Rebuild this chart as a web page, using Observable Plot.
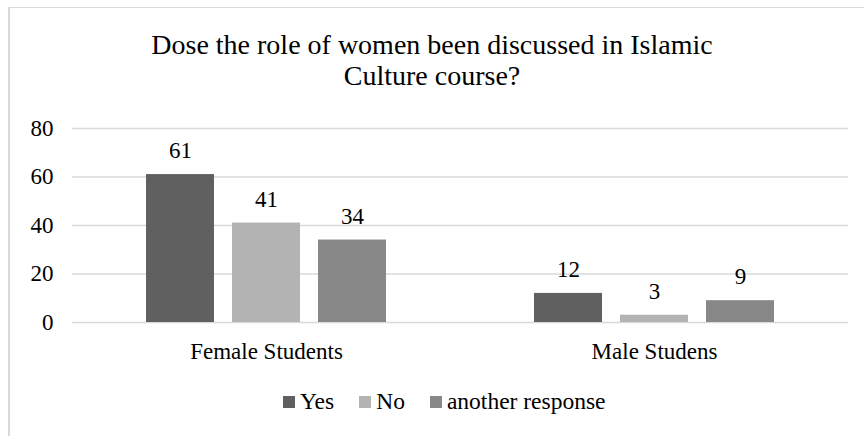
<!DOCTYPE html>
<html><head><meta charset="utf-8">
<script src="https://cdn.jsdelivr.net/npm/d3@7"></script>
<script src="https://cdn.jsdelivr.net/npm/@observablehq/plot@0.6"></script>
<style>
html,body{margin:0;padding:0;background:#fff;overflow:hidden;font-family:'Liberation Serif',serif;}
#wrap{position:relative;width:864px;height:436px;overflow:hidden;font-family:'Liberation Serif',serif;color:#000;}
#frame{position:absolute;left:8px;top:7px;width:1000px;height:1000px;border-top:1px solid #d9d9d9;border-left:2px solid #d9d9d9;}
#chart{position:absolute;left:0;top:0;}
#chart svg, #chart svg text{font-family:'Liberation Serif',serif !important;}
#title{position:absolute;left:0;width:864px;top:29px;text-align:center;font-size:28px;line-height:31px;font-family:'Liberation Serif',serif;}
#legend{position:absolute;left:283px;top:390px;display:flex;align-items:center;font-size:23.5px;line-height:23px;white-space:nowrap;font-family:'Liberation Serif',serif;}
.item{display:flex;align-items:center;margin-right:25px;}
.sw{width:12px;height:12px;margin-right:5px;}
</style></head>
<body>
<div id="wrap">
  <div id="frame"></div>
  <div id="chart"></div>
  <div id="title">Dose the role of women been discussed in Islamic<br>Culture course?</div>
  <div id="legend"></div>
</div>
<script>
const groups = ["Female Students", "Male Studens"];
const responses = ["Yes", "No", "another response"];
const yesValues = [61, 12];
const noValues = [41, 3];
const otherValues = [34, 9];
const colors = ["#606060", "#b3b3b3", "#888888"];
const yTicks = [0, 20, 40, 60, 80];

const series = [yesValues, noValues, otherValues];
const data = groups.flatMap((g, i) => responses.map((r, j) => ({group: g, response: r, value: series[j][i]})));

const font = "'Liberation Serif', serif";
const chart = Plot.plot({
  width: 864, height: 436,
  marginLeft: 71, marginRight: 16, marginTop: 128, marginBottom: 114,
  style: {fontFamily: font, fontSize: "23px", color: "#000", background: "transparent"},
  fx: {domain: groups, padding: 0, label: null},
  x: {domain: responses, paddingInner: 0.214, paddingOuter: 0.853, axis: null},
  y: {domain: [0, 80], ticks: yTicks, label: null},
  color: {domain: responses, range: colors},
  marks: [
    Plot.ruleY(yTicks, {stroke: "#d9d9d9", strokeWidth: 1.3}),
    Plot.barY(data, {fx: "group", x: "response", y: "value", fill: "response"}),
    Plot.text(data, {fx: "group", x: "response", y: "value", text: d => String(d.value), lineAnchor: "bottom", dy: -16.5, fontSize: 23, fill: "#000"}),
    Plot.axisY({ticks: yTicks, tickSize: 0, tickPadding: 19, fontSize: 23, label: null}),
    Plot.axisFx({anchor: "bottom", tickSize: 0, tickPadding: 20, fontSize: 23, label: null})
  ]
});
document.getElementById("chart").appendChild(chart);

const legend = document.getElementById("legend");
responses.forEach((r, j) => {
  const item = document.createElement("div");
  item.className = "item";
  const sw = document.createElement("div");
  sw.className = "sw";
  sw.style.background = colors[j];
  const t = document.createElement("span");
  t.textContent = r;
  item.appendChild(sw); item.appendChild(t);
  legend.appendChild(item);
});
</script>
</body></html>
